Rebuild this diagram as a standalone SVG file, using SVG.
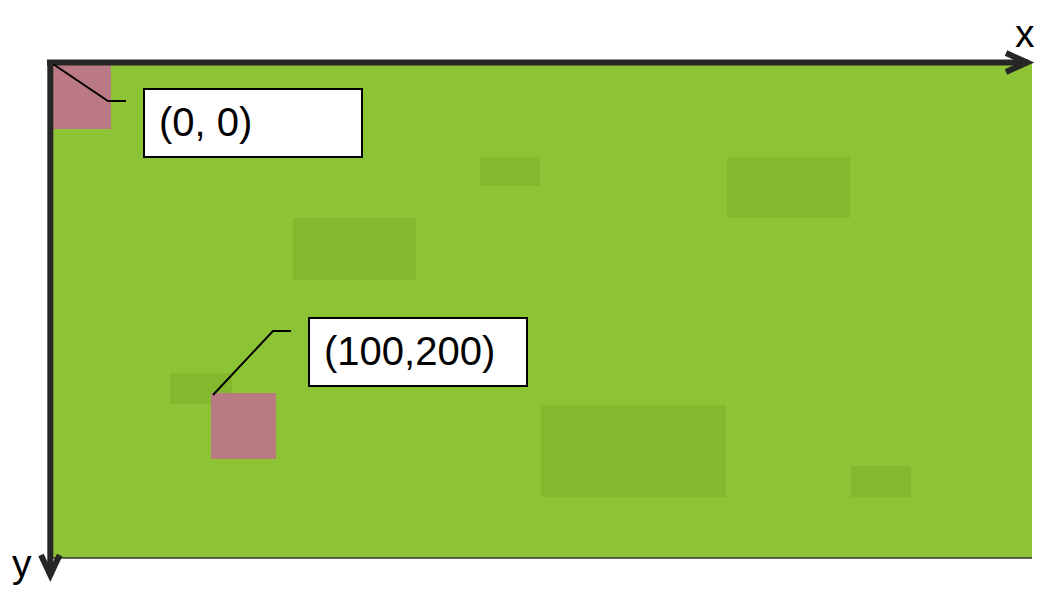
<svg xmlns="http://www.w3.org/2000/svg" width="1044" height="595" viewBox="0 0 1044 595">
<style>
.patch{fill:#84b82e}
.pink{fill:#bb7985}
.box{fill:#fff;stroke:#000;stroke-width:2}
.lead{fill:none;stroke:#000;stroke-width:2}
.axis{fill:none;stroke:#262626;stroke-width:6}
.lbl{font-family:"Liberation Sans",Arial,sans-serif;font-size:40px;fill:#000}
.ax{font-family:"Liberation Sans",Arial,sans-serif;font-size:39px;fill:#000}
</style>
<g id="field">
<rect x="50" y="62" width="982" height="496" fill="#8dc435"/>
<line x1="50" y1="558" x2="1032" y2="558" stroke="#333" stroke-width="1.5"/>
<rect class="patch" x="480" y="157" width="60" height="29"/>
<rect class="patch" x="727" y="157" width="123" height="61"/>
<rect class="patch" x="293" y="218" width="123" height="62"/>
<rect class="patch" x="170" y="373" width="62" height="31"/>
<rect class="patch" x="541" y="405" width="185" height="92"/>
<rect class="patch" x="851" y="466" width="60" height="31"/>
</g>
<g id="origin-square"><rect class="pink" x="53" y="65" width="58" height="64"/></g>
<g id="point-square"><rect class="pink" x="211" y="393" width="65" height="66" opacity="0.97"/></g>
<g id="axes">
<line class="axis" x1="47" y1="62.5" x2="1028" y2="62.5"/>
<polyline class="axis" points="1006,53 1027,62.5 1006,72"/>
<line class="axis" x1="50.3" y1="60" x2="50.3" y2="575"/>
<polyline class="axis" points="41,555 50.3,575 59.6,555"/>
<text class="ax" x="1015" y="47">x</text>
<text class="ax" x="12" y="577">y</text>
</g>
<g id="connectors">
<polyline class="lead" points="53,64 108,101 126,101"/>
<polyline class="lead" points="213,395 273,331 291,331"/>
</g>
<g id="label-origin">
<rect class="box" x="144" y="89" width="218" height="68"/>
<text class="lbl" x="159" y="136">(0, 0)</text>
</g>
<g id="label-point">
<rect class="box" x="309" y="318" width="218" height="68"/>
<text class="lbl" x="324" y="365">(100,200)</text>
</g>
</svg>
